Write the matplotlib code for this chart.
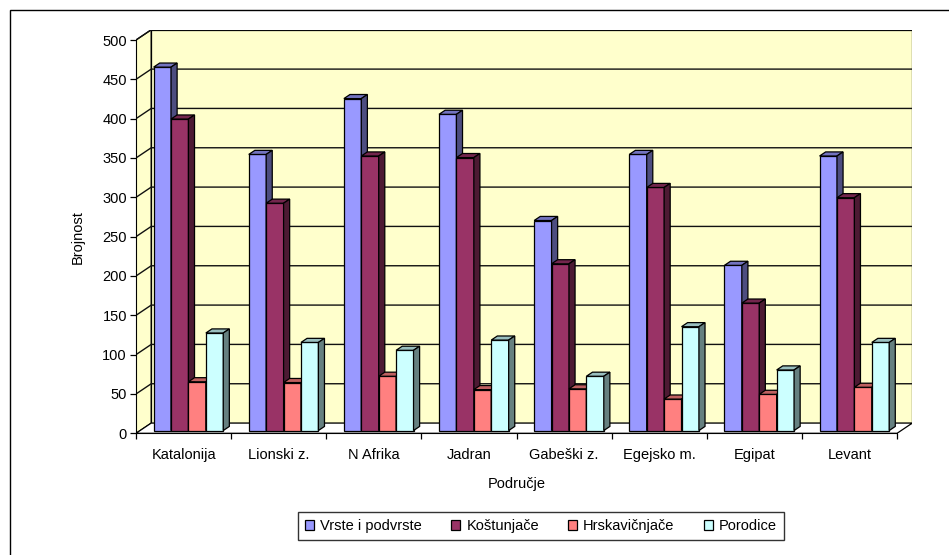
import matplotlib
matplotlib.use("Agg")
import matplotlib.pyplot as plt
from matplotlib.patches import Rectangle, Polygon, Patch
from matplotlib.lines import Line2D

plt.rcParams['font.family'] = ['Liberation Sans', 'DejaVu Sans']
FS = 10.5

categories = ["Katalonija", "Lionski z.", "N Afrika", "Jadran", "Gabeški z.",
              "Egejsko m.", "Egipat", "Levant"]
series_names = ["Vrste i podvrste", "Koštunjače", "Hrskavičnjače", "Porodice"]
vrste = [462, 351, 422, 402, 267, 351, 210, 349]
kostunjace = [396, 289, 349, 347, 212, 309, 162, 296]
hrskavicnjace = [62, 61, 69, 52, 53, 40, 46, 55]
porodice = [124, 112, 102, 115, 69, 132, 77, 112]
yticks = list(range(0, 501, 50))
x_label = "Područje"
y_label = "Brojnost"

series = [vrste, kostunjace, hrskavicnjace, porodice]
front_cols = ["#9999FF", "#993366", "#FF8080", "#CCFFFF"]
top_cols = ["#7373BF", "#73264D", "#BF6060", "#99BFBF"]
side_cols = ["#4D4D80", "#4D1A33", "#804040", "#668080"]

W, H = 949, 555
fig = plt.figure(figsize=(W / 100, H / 100), dpi=100)

# outer border (only top and left edges fall inside the picture)
fig.patches.append(Rectangle((10 / W, -0.2), 1.2, 1.2 - 10 / H,
                             transform=fig.transFigure, fill=False,
                             edgecolor="black", linewidth=1.0))

n = len(categories)
dx, dy = 0.16, 13.0          # depth of the 3D box (data units)
ymax = 500
ax_left, ax_right = 136, 912.3
ax_bottom, ax_top = 433.3, 433.3 - (ymax + dy) * (393.3 / 500)
ax = fig.add_axes([ax_left / W, 1 - ax_bottom / H,
                   (ax_right - ax_left) / W, (ax_bottom - ax_top) / H])
ax.set_xlim(0, n + dx)
ax.set_ylim(0, ymax + dy)
ax.patch.set_visible(False)

wall = "#FFFFCC"
lw = 0.9
# left wall
ax.add_patch(Polygon([(0, 0), (dx, dy), (dx, ymax + dy), (0, ymax)],
                     closed=True, facecolor=wall, edgecolor="black", lw=lw, zorder=1))
# back wall
ax.add_patch(Rectangle((dx, dy), n, ymax, facecolor=wall, edgecolor="black",
                       lw=lw, zorder=1))
# floor
ax.add_patch(Polygon([(0, 0), (n, 0), (n + dx, dy), (dx, dy)], closed=True,
                     facecolor="white", edgecolor="black", lw=lw, zorder=1))
# gridlines
for v in yticks[1:]:
    ax.add_line(Line2D([0, dx, n + dx], [v, v + dy, v + dy], color="#111111",
                       lw=1.0, zorder=1.5))

# bars
gstart, gw = 0.142, 0.732
bw = gw / len(series)
bx, by = 0.27 * dx, 0.27 * dy
ddx, ddy = 0.4 * dx, 0.4 * dy
for c in range(n):
    for s, vals in enumerate(series):
        v = vals[c]
        x0 = c + gstart + s * bw + bx
        y0 = by
        y1 = by + v
        z = 3 + c * 10 + s
        ax.add_patch(Rectangle((x0, y0), bw, v, facecolor=front_cols[s],
                               edgecolor="black", lw=lw, zorder=z))
        ax.add_patch(Polygon([(x0, y1), (x0 + bw, y1), (x0 + bw + ddx, y1 + ddy),
                              (x0 + ddx, y1 + ddy)], closed=True,
                             facecolor=top_cols[s], edgecolor="black", lw=lw, zorder=z))
        ax.add_patch(Polygon([(x0 + bw, y0), (x0 + bw + ddx, y0 + ddy),
                              (x0 + bw + ddx, y1 + ddy), (x0 + bw, y1)], closed=True,
                             facecolor=side_cols[s], edgecolor="black", lw=lw, zorder=z))

# spines / ticks
for sp in ["top", "right"]:
    ax.spines[sp].set_visible(False)
ax.spines["left"].set_bounds(0, ymax)
ax.spines["bottom"].set_bounds(0, n)
ax.spines["left"].set_zorder(200)
ax.spines["bottom"].set_zorder(200)
ax.set_yticks(yticks)
ax.set_yticklabels([str(t) for t in yticks], fontsize=FS)
ax.tick_params(axis="y", direction="out", length=4, width=lw, pad=2.5)
ax.set_xticks(range(0, n + 1))
ax.set_xticklabels([])
ax.tick_params(axis="x", which="major", direction="out", length=4.5, width=lw)
ax.set_xticks([i + 0.5 for i in range(n)], minor=True)
ax.set_xticklabels(categories, minor=True, fontsize=FS)
ax.tick_params(axis="x", which="minor", length=0, pad=10.5)

fig.text(78 / W, 1 - 237 / H, y_label, rotation=90, ha="center", va="center",
         fontsize=FS)
fig.text(517 / W, 1 - 484 / H, x_label, ha="center", va="center", fontsize=FS)

handles = [Patch(facecolor=front_cols[i], edgecolor="black", lw=lw)
           for i in range(len(series))]
leg = fig.legend(handles, series_names, loc="center",
                 bbox_to_anchor=(541 / W, 1 - 526 / H), ncol=4, fontsize=FS,
                 frameon=True, fancybox=False, edgecolor="black",
                 handlelength=0.62, handleheight=0.62, handletextpad=0.42,
                 columnspacing=2.0, borderpad=0.5, borderaxespad=0)
leg.get_frame().set_linewidth(1.0)

fig.savefig("out.png", dpi=100)
